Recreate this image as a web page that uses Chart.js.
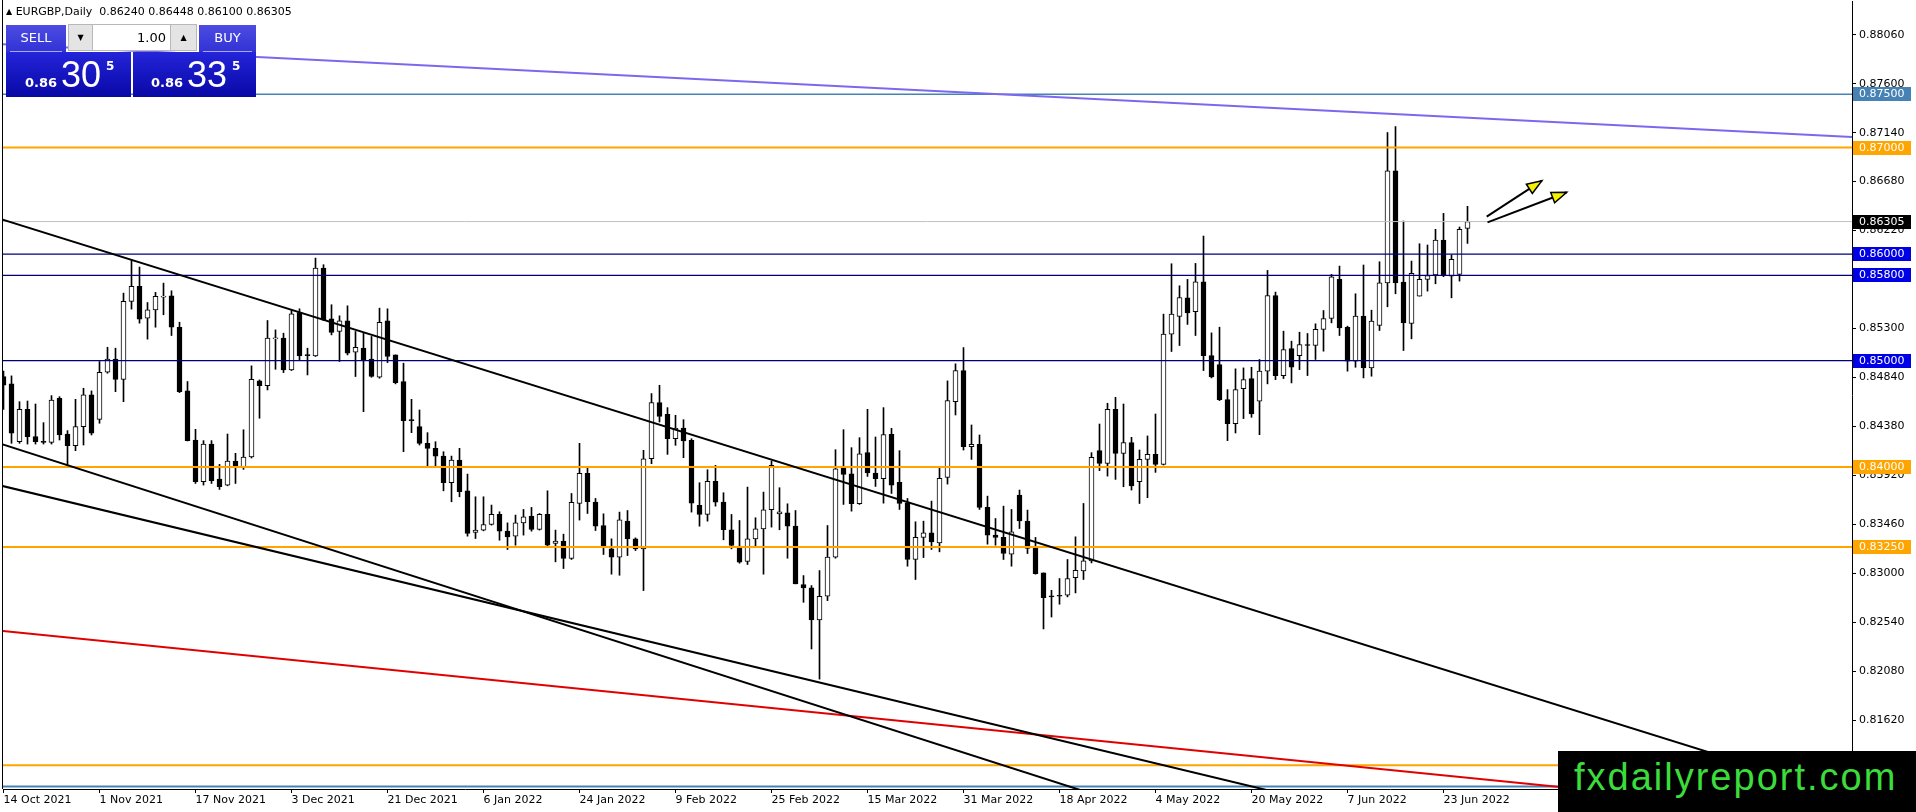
<!DOCTYPE html>
<html lang="en">
<head>
<meta charset="UTF-8" />
<title>EURGBP, Daily</title>
<script src="https://cdn.jsdelivr.net/npm/chart.js"></script>
<style>
  html, body { margin: 0; padding: 0; background: #fff; }
  #wrap { position: relative; width: 1916px; height: 812px; overflow: hidden; font-family: "DejaVu Sans", sans-serif; }
  #chart { position: absolute; left: 0; top: 0; }
  .hdr { position: absolute; left: 6px; top: 5px; font-size: 11px; line-height: 13px; color: #000; white-space: pre; }
  .hdr .tri { font-size: 8px; position: relative; top: -1px; }
  .btn { position: absolute; top: 25px; height: 27px; color: #fff; font-size: 13px; line-height: 25px; text-align: center;
         background: linear-gradient(#4c4ce2, #3232d6); }
  .btn::after { content: ""; position: absolute; left: 4px; right: 4px; bottom: 0; border-bottom: 1px solid #a8a8f0; }
  .spin { position: absolute; top: 24px; height: 27px; background: #e4e4e4; border: 1px solid #b8b8b8; box-sizing: border-box;
          font-size: 8px; line-height: 25px; text-align: center; color: #000; }
  .lot { position: absolute; top: 24px; height: 27px; left: 92px; width: 79px; background: #fff; border: 1px solid #b8b8b8; box-sizing: border-box;
         font-size: 13px; line-height: 25px; text-align: right; padding-right: 4px; color: #000; }
  .quote { position: absolute; top: 52px; height: 45px; color: #fff; background: linear-gradient(#2424da, #0808a6); }
  .quote span { position: absolute; white-space: pre; }
  .q-small { font-size: 13px; font-weight: bold; line-height: 13px; top: 24px; }
  .q-big { font-family: "Liberation Sans", sans-serif; font-size: 36px; line-height: 36px; top: 5px; }
  .q-sup { font-size: 12px; font-weight: bold; line-height: 12px; top: 8px; }
  .wm { position: absolute; left: 1558px; top: 751px; width: 358px; height: 61px; background: #000; }
  .wm span { position: absolute; left: 16px; top: 4px; font-family: "Liberation Sans", sans-serif; font-size: 38px; line-height: 44px;
             letter-spacing: 2px; color: #3bdc3b; }
</style>
</head>
<body>
<div id="wrap">
  <canvas id="chart" width="1916" height="812"></canvas>
  <div class="hdr"><span class="tri">&#9650;</span> EURGBP,Daily  0.86240 0.86448 0.86100 0.86305</div>
  <div class="btn" style="left:6px;width:60px;">SELL</div>
  <div class="spin" style="left:68px;width:25px;">&#9660;</div>
  <div class="lot">1.00</div>
  <div class="spin" style="left:170px;width:27px;">&#9650;</div>
  <div class="btn" style="left:199px;width:57px;">BUY</div>
  <div class="quote" style="left:6px;width:125px;">
    <span class="q-small" style="left:19px;">0.86</span><span class="q-big" style="left:55px;">30</span><span class="q-sup" style="left:100px;">5</span>
  </div>
  <div class="quote" style="left:133px;width:123px;">
    <span class="q-small" style="left:18px;">0.86</span><span class="q-big" style="left:54px;">33</span><span class="q-sup" style="left:99px;">5</span>
  </div>
  <div class="wm"><span>fxdailyreport.com</span></div>
</div>

<script>
  // daily bars, index 0 = 14 Oct 2021, one bar per weekday
  const opens = [
    0.84850, 0.84781, 0.84238, 0.84542, 0.84285, 0.84238, 0.84232, 0.84646, 0.84310, 0.84200,
    0.84379, 0.84677, 0.84448, 0.84890, 0.85013, 0.84824, 0.85555, 0.85696, 0.85398, 0.85476,
    0.85596, 0.85608, 0.85313, 0.84715, 0.84254, 0.83862, 0.84216, 0.83887, 0.83831, 0.84056,
    0.84000, 0.84094, 0.84809, 0.84765, 0.85204, 0.85210, 0.84912, 0.85451, 0.85053, 0.85044,
    0.85868, 0.85392, 0.85273, 0.85373, 0.85078, 0.85116, 0.85013, 0.84843, 0.85373, 0.85053,
    0.84803, 0.84442, 0.84379, 0.84223, 0.84176, 0.84103, 0.83853, 0.84066, 0.83777, 0.83386,
    0.83408, 0.83461, 0.83555, 0.83398, 0.83351, 0.83476, 0.83539, 0.83414, 0.83555, 0.83282,
    0.83304, 0.83141, 0.83658, 0.83940, 0.83671, 0.83451, 0.83232, 0.83154, 0.83492, 0.83326,
    0.83232, 0.84078, 0.84605, 0.84495, 0.84266, 0.84367, 0.84251, 0.83640, 0.83555, 0.83865,
    0.83671, 0.83411, 0.83254, 0.83113, 0.83326, 0.83420, 0.83599, 0.83561, 0.83570, 0.83445,
    0.82897, 0.82865, 0.82564, 0.82787, 0.83154, 0.83994, 0.83937, 0.83655, 0.84135, 0.83944,
    0.83890, 0.84307, 0.83856, 0.83665, 0.83132, 0.83339, 0.83382, 0.83288, 0.83903, 0.84614,
    0.84906, 0.84191, 0.84213, 0.83621, 0.83361, 0.83339, 0.83182, 0.83737, 0.83492, 0.83245,
    0.83006, 0.82790, 0.82796, 0.82796, 0.82962, 0.83025, 0.83119, 0.84154, 0.84034, 0.84542,
    0.84129, 0.84229, 0.83862, 0.84072, 0.84119, 0.84025, 0.85248, 0.85414, 0.85589, 0.85458,
    0.85740, 0.85047, 0.84962, 0.84633, 0.84408, 0.84737, 0.84831, 0.84618, 0.84900, 0.85611,
    0.84859, 0.85113, 0.85047, 0.85150, 0.85141, 0.85292, 0.85395, 0.85762, 0.85313, 0.84994,
    0.85417, 0.84931, 0.85329, 0.85730, 0.86781, 0.85737, 0.85348, 0.85605, 0.85762, 0.85803,
    0.86132, 0.85793, 0.85809, 0.86240
  ];
  const highs = [
    0.84900, 0.84856, 0.84614, 0.84620, 0.84592, 0.84417, 0.84671, 0.84661, 0.84342, 0.84636,
    0.84740, 0.84715, 0.84991, 0.85125, 0.85116, 0.85633, 0.85947, 0.85878, 0.85545, 0.85640,
    0.85727, 0.85655, 0.85360, 0.84803, 0.84354, 0.84248, 0.84248, 0.84025, 0.84310, 0.84129,
    0.84350, 0.84950, 0.84818, 0.85376, 0.85288, 0.85257, 0.85476, 0.85486, 0.85116, 0.85962,
    0.85900, 0.85524, 0.85420, 0.85514, 0.85273, 0.85257, 0.85226, 0.85492, 0.85486, 0.85053,
    0.84975, 0.84636, 0.84536, 0.84323, 0.84238, 0.84144, 0.84103, 0.84176, 0.83934, 0.83721,
    0.83721, 0.83643, 0.83580, 0.83476, 0.83549, 0.83602, 0.83621, 0.83564, 0.83777, 0.83408,
    0.83370, 0.83752, 0.84223, 0.83994, 0.83705, 0.83561, 0.83326, 0.83577, 0.83592, 0.83335,
    0.84157, 0.84690, 0.84768, 0.84558, 0.84486, 0.84445, 0.84266, 0.83853, 0.83975, 0.84016,
    0.83759, 0.83555, 0.83498, 0.83812, 0.83524, 0.83765, 0.84056, 0.83806, 0.83655, 0.83592,
    0.82981, 0.82887, 0.83028, 0.83451, 0.84163, 0.84351, 0.84182, 0.84276, 0.84542, 0.84282,
    0.84558, 0.84364, 0.84154, 0.83705, 0.83486, 0.83492, 0.83680, 0.83994, 0.84809, 0.84969,
    0.85122, 0.84395, 0.84301, 0.83727, 0.83517, 0.83633, 0.83602, 0.83784, 0.83596, 0.83339,
    0.83006, 0.82843, 0.82953, 0.83132, 0.83345, 0.83658, 0.84135, 0.84404, 0.84599, 0.84655,
    0.84592, 0.84279, 0.84160, 0.84292, 0.84498, 0.85436, 0.85909, 0.85702, 0.85762, 0.85912,
    0.86169, 0.85260, 0.85313, 0.84727, 0.84922, 0.84931, 0.84937, 0.85010, 0.85846, 0.85643,
    0.85276, 0.85182, 0.85266, 0.85254, 0.85345, 0.85470, 0.85809, 0.85887, 0.85323, 0.85627,
    0.85897, 0.85473, 0.85928, 0.87141, 0.87197, 0.86310, 0.85934, 0.86097, 0.86085, 0.86232,
    0.86382, 0.85991, 0.86254, 0.86448
  ];
  const lows = [
    0.84540, 0.84223, 0.84223, 0.84216, 0.84216, 0.84216, 0.84216, 0.84254, 0.84003, 0.84154,
    0.84207, 0.84301, 0.84411, 0.84881, 0.84708, 0.84614, 0.85483, 0.85351, 0.85201, 0.85313,
    0.85430, 0.85235, 0.84699, 0.84245, 0.83846, 0.83831, 0.83846, 0.83790, 0.83824, 0.83846,
    0.83978, 0.84085, 0.84458, 0.84724, 0.84918, 0.84887, 0.84906, 0.85000, 0.84865, 0.85038,
    0.85376, 0.85241, 0.84991, 0.85053, 0.84850, 0.84520, 0.84843, 0.84834, 0.84981, 0.84781,
    0.84144, 0.84323, 0.84207, 0.84003, 0.84003, 0.83777, 0.83674, 0.83721, 0.83351, 0.83329,
    0.83401, 0.83455, 0.83313, 0.83226, 0.83266, 0.83361, 0.83398, 0.83408, 0.83257, 0.83110,
    0.83047, 0.83132, 0.83502, 0.83564, 0.83404, 0.83179, 0.82994, 0.82984, 0.83169, 0.83216,
    0.82840, 0.84031, 0.84423, 0.84119, 0.84204, 0.84088, 0.83577, 0.83445, 0.83492, 0.83633,
    0.83317, 0.83232, 0.83097, 0.83085, 0.83254, 0.82994, 0.83436, 0.83411, 0.83144, 0.82903,
    0.82730, 0.82292, 0.82009, 0.82746, 0.83144, 0.83649, 0.83586, 0.83649, 0.83912, 0.83818,
    0.83661, 0.83752, 0.83602, 0.83069, 0.82944, 0.83150, 0.83226, 0.83204, 0.83840, 0.84489,
    0.84160, 0.84072, 0.83602, 0.83276, 0.83266, 0.83132, 0.83069, 0.83423, 0.83188, 0.82994,
    0.82480, 0.82592, 0.82712, 0.82781, 0.82818, 0.82944, 0.83100, 0.83966, 0.83915, 0.83884,
    0.83815, 0.83784, 0.83658, 0.83712, 0.83950, 0.84019, 0.85085, 0.85141, 0.85339, 0.85235,
    0.84906, 0.84837, 0.84624, 0.84248, 0.84320, 0.84455, 0.84467, 0.84304, 0.84781, 0.84821,
    0.84831, 0.84790, 0.84915, 0.84859, 0.85010, 0.85088, 0.85354, 0.85235, 0.84900, 0.84937,
    0.84837, 0.84853, 0.85282, 0.85505, 0.85627, 0.85094, 0.85204, 0.85605, 0.85652, 0.85721,
    0.85787, 0.85589, 0.85746, 0.86100
  ];
  const closes = [
    0.84770, 0.84317, 0.84542, 0.84285, 0.84238, 0.84232, 0.84630, 0.84301, 0.84200, 0.84379,
    0.84677, 0.84317, 0.84890, 0.85013, 0.84824, 0.85555, 0.85696, 0.85389, 0.85476, 0.85602,
    0.85602, 0.85313, 0.84708, 0.84248, 0.83862, 0.84216, 0.83871, 0.83815, 0.84056, 0.84012,
    0.84094, 0.84824, 0.84765, 0.85210, 0.85210, 0.84912, 0.85439, 0.85044, 0.85047, 0.85868,
    0.85382, 0.85263, 0.85373, 0.85069, 0.85125, 0.85006, 0.84850, 0.85360, 0.85038, 0.84793,
    0.84436, 0.84436, 0.84223, 0.84176, 0.84103, 0.83853, 0.84066, 0.83768, 0.83376, 0.83408,
    0.83461, 0.83555, 0.83398, 0.83345, 0.83476, 0.83533, 0.83414, 0.83555, 0.83266, 0.83304,
    0.83141, 0.83668, 0.83940, 0.83674, 0.83445, 0.83254, 0.83154, 0.83505, 0.83326, 0.83232,
    0.84078, 0.84605, 0.84476, 0.84266, 0.84367, 0.84245, 0.83661, 0.83555, 0.83865, 0.83671,
    0.83411, 0.83263, 0.83107, 0.83326, 0.83420, 0.83599, 0.84016, 0.83580, 0.83445, 0.82903,
    0.82865, 0.82564, 0.82787, 0.83154, 0.83984, 0.83931, 0.83655, 0.84125, 0.83944, 0.83890,
    0.84304, 0.83831, 0.83658, 0.83132, 0.83339, 0.83382, 0.83298, 0.83893, 0.84624, 0.84906,
    0.84191, 0.84213, 0.83621, 0.83361, 0.83339, 0.83188, 0.83392, 0.83495, 0.83235, 0.83000,
    0.82774, 0.82780, 0.82787, 0.82953, 0.83031, 0.83119, 0.84091, 0.84034, 0.84542, 0.84129,
    0.84229, 0.83824, 0.84072, 0.84119, 0.84025, 0.85248, 0.85436, 0.85592, 0.85448, 0.85740,
    0.85047, 0.84846, 0.84633, 0.84408, 0.84727, 0.84821, 0.84498, 0.84900, 0.85611, 0.84859,
    0.85103, 0.84937, 0.85150, 0.85141, 0.85292, 0.85395, 0.85787, 0.85307, 0.84994, 0.85417,
    0.84931, 0.85370, 0.85730, 0.86781, 0.85730, 0.85354, 0.85818, 0.85762, 0.85799, 0.86132,
    0.85799, 0.85950, 0.86232, 0.86305
  ];

  // time axis labels (every 12th bar) and price axis ticks
  const dateTickIdx = [0, 12, 24, 36, 48, 60, 72, 84, 96, 108, 120, 132, 144, 156, 168, 180];
  const dateTickLabels = ['14 Oct 2021', '1 Nov 2021', '17 Nov 2021', '3 Dec 2021', '21 Dec 2021', '6 Jan 2022',
    '24 Jan 2022', '9 Feb 2022', '25 Feb 2022', '15 Mar 2022', '31 Mar 2022', '18 Apr 2022', '4 May 2022',
    '20 May 2022', '7 Jun 2022', '23 Jun 2022'];
  const priceTicks = [0.81160, 0.81620, 0.82080, 0.82540, 0.83000, 0.83460, 0.83920, 0.84380,
    0.84840, 0.85300, 0.85760, 0.86220, 0.86680, 0.87140, 0.87600, 0.88060];

  // horizontal levels
  const levelPrices = [0.8750, 0.8700, 0.8600, 0.8580, 0.8500, 0.8400, 0.8325, 0.8120, 0.8100];
  const levelColors = ['#4682b4', '#ffa500', '#00007a', '#00007a', '#00007a', '#ffa500', '#ffa500', '#ffa500', '#4682b4'];
  const levelBoxColors = ['#4682b4', '#ffa500', '#0000e6', '#0000e6', '#0000e6', '#ffa500', '#ffa500', '#ffa500', '#4682b4'];
  const levelWidths = [1.5, 2, 1.2, 1.2, 1.2, 2, 2, 2, 2];
  const lastPrice = 0.86305;

  // trend lines: two anchor points each (bar index, price)
  const trendX = [[0, 148], [0, 132], [0, 150], [0, 190], [0, 231]];
  const trendY = [[0.8632, 0.8285], [0.8421, 0.8103], [0.8382, 0.8111], [0.8246, 0.8103], [0.8797, 0.8710]];
  const trendColors = ['#000', '#000', '#000', '#e00000', '#7b68ee'];

  // arrows (tail -> tip)
  const arrowX = [[185.4, 192.3], [185.5, 195.4]];
  const arrowY = [[0.86351, 0.86689], [0.86298, 0.86580]];

  const X_MIN = -0.0625, X_MAX = 231.0625;
  const Y_MIN = 0.80977, Y_MAX = 0.883761;

  function seg(x0, y0, x1, y1, color, width, order) {
    return { type: 'line', data: [{ x: x0, y: y0 }, { x: x1, y: y1 }], borderColor: color, borderWidth: width,
             pointRadius: 0, fill: false, tension: 0, order: order };
  }
  function ray(xs, ys, color, width, order) {
    const k = (ys[1] - ys[0]) / (xs[1] - xs[0]);
    const a = X_MIN - 2, b = X_MAX + 2;
    return seg(a, ys[0] + k * (a - xs[0]), b, ys[0] + k * (b - xs[0]), color, width, order);
  }
  // keep the plot area exactly where the layout padding puts it
  function noPad(s) { s.paddingTop = 0; s.paddingBottom = 0; s.paddingLeft = 0; s.paddingRight = 0; }

  const datasets = [];
  // candles: wicks first, then bodies on top
  datasets.push({
    type: 'bar', data: highs.map((h, i) => ({ x: i, y: [lows[i], h] })),
    backgroundColor: '#000', barThickness: 1, grouped: false, order: 11
  });
  datasets.push({
    type: 'bar',
    data: opens.map((o, i) => ({ x: i, y: [Math.min(o, closes[i]), Math.max(o, closes[i])] })),
    backgroundColor: opens.map((o, i) => closes[i] >= o ? '#fff' : '#000'),
    borderColor: '#000', borderWidth: 1, borderSkipped: false, barThickness: 5, minBarLength: 1,
    grouped: false, order: 10
  });
  datasets.push(seg(X_MIN - 2, lastPrice, X_MAX + 2, lastPrice, '#c0c0c0', 1, 6));
  levelPrices.forEach((p, i) => datasets.push(seg(X_MIN - 2, p, X_MAX + 2, p, levelColors[i], levelWidths[i], 5)));
  trendX.forEach((xs, i) => datasets.push(ray(xs, trendY[i], trendColors[i], 2, 4)));
  arrowX.forEach((xs, i) => datasets.push(seg(xs[0], arrowY[i][0], xs[1], arrowY[i][1], '#000', 2, 1)));

  const overlay = {
    id: 'overlay',
    afterDatasetsDraw(chart) {
      const { ctx, scales: { x, y } } = chart;
      ctx.save();
      arrowX.forEach((xs, i) => {
        const qx = x.getPixelForValue(xs[0]), qy = y.getPixelForValue(arrowY[i][0]);
        const px = x.getPixelForValue(xs[1]), py = y.getPixelForValue(arrowY[i][1]);
        const ang = Math.atan2(py - qy, px - qx);
        const len = 15, half = 5.5;
        const bx = px - len * Math.cos(ang), by = py - len * Math.sin(ang);
        ctx.beginPath();
        ctx.moveTo(px, py);
        ctx.lineTo(bx + half * Math.sin(ang), by - half * Math.cos(ang));
        ctx.lineTo(bx - half * Math.sin(ang), by + half * Math.cos(ang));
        ctx.closePath();
        ctx.fillStyle = '#f5f000';
        ctx.fill();
        ctx.lineWidth = 1.5;
        ctx.strokeStyle = '#000';
        ctx.stroke();
      });
      ctx.restore();
    },
    afterDraw(chart) {
      const { ctx, chartArea: a, scales: { y } } = chart;
      ctx.save();
      ctx.fillStyle = '#000';
      ctx.fillRect(a.left - 1, 0, 1, a.bottom);
      ctx.font = '11px "DejaVu Sans"';
      ctx.textBaseline = 'middle';
      const boxes = levelPrices.map((p, i) => [p, levelBoxColors[i]]);
      boxes.push([lastPrice, '#000']);
      boxes.forEach(([p, c]) => {
        const py = Math.round(y.getPixelForValue(p));
        ctx.fillStyle = c;
        ctx.fillRect(a.right + 1, py - 7, 58, 14);
        ctx.fillStyle = '#fff';
        ctx.fillText(p.toFixed(5), a.right + 7, py + 0.5);
      });
      ctx.restore();
    }
  };

  new Chart(document.getElementById('chart'), {
    type: 'bar',
    data: { datasets },
    plugins: [overlay],
    options: {
      responsive: false,
      devicePixelRatio: 1,
      animation: false,
      events: [],
      layout: { padding: { left: 3, top: 1, right: 0, bottom: 0 } },
      plugins: { legend: { display: false }, tooltip: { enabled: false } },
      scales: {
        x: {
          type: 'linear', min: X_MIN, max: X_MAX, offset: false,
          afterFit: s => { s.height = 23; noPad(s); },
          afterBuildTicks: s => { s.ticks = dateTickIdx.map(v => ({ value: v })); },
          ticks: {
            autoSkip: false, maxRotation: 0, minRotation: 0, align: 'start', padding: 1, color: '#000',
            font: { family: 'DejaVu Sans', size: 11 },
            callback: v => dateTickLabels[dateTickIdx.indexOf(v)]
          },
          grid: { drawOnChartArea: false, offset: false, tickLength: 4, color: '#000' },
          border: { display: true, color: '#000', width: 1 }
        },
        y: {
          type: 'linear', position: 'right', min: Y_MIN, max: Y_MAX, beginAtZero: false,
          afterFit: s => { s.width = 64; noPad(s); },
          afterBuildTicks: s => { s.ticks = priceTicks.map(v => ({ value: v })); },
          ticks: {
            padding: 3, color: '#000', font: { family: 'DejaVu Sans', size: 11 },
            callback: v => v.toFixed(5)
          },
          grid: { drawOnChartArea: false, tickLength: 4, color: '#000' },
          border: { display: true, color: '#000', width: 1 }
        }
      }
    }
  });
</script>
</body>
</html>
